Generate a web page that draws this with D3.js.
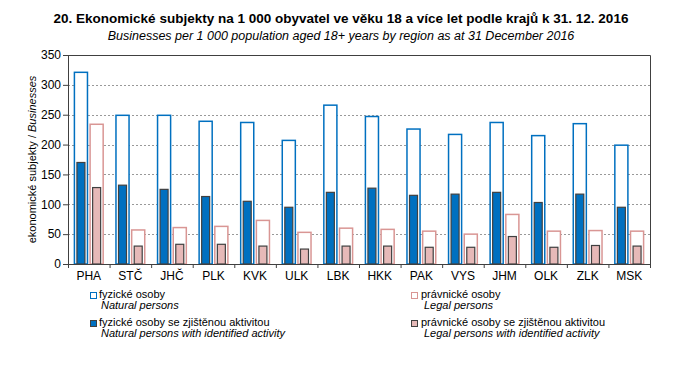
<!DOCTYPE html>
<html>
<head>
<meta charset="utf-8">
<script src="https://cdn.jsdelivr.net/npm/d3@7"></script>
<style>
  body { margin: 0; background: #fff; }
  text { font-family: "Liberation Sans", Arial, sans-serif; fill: #000; }
</style>
</head>
<body>
<div id="chart"></div>
<script>
const regions = ['PHA', 'STČ', 'JHČ', 'PLK', 'KVK', 'ULK', 'LBK', 'HKK', 'PAK', 'VYS', 'JHM', 'OLK', 'ZLK', 'MSK'];
const natural = [321, 249, 249, 239, 237, 207, 266, 247, 226, 217, 237, 215, 235, 199];
const naturalActive = [170, 132, 125, 113, 105, 95, 120, 127, 115, 117, 120, 103, 117, 95];
const legal = [234, 57, 61, 63, 73, 53, 60, 58, 55, 50, 83, 55, 56, 55];
const legalActive = [128, 30, 33, 33, 30, 25, 30, 30, 28, 28, 46, 28, 31, 30];
const yTicks = [0, 50, 100, 150, 200, 250, 300, 350];

const width = 682, height = 386;
const margin = { top: 55, right: 32, bottom: 122, left: 68 };
const blue = '#0070c0', pinkLine = '#d99694', pinkFill = '#e6b9b8', dark = '#404040';

const svg = d3.select('#chart').append('svg')
  .attr('width', width)
  .attr('height', height);

const x = d3.scaleBand()
  .domain(regions)
  .range([margin.left, width - margin.right])
  .paddingInner(0.26)
  .paddingOuter(0.13);

const sub = d3.scaleBand()
  .domain(['fyz', 'prav'])
  .range([0, x.bandwidth()])
  .paddingInner(0.04);

const y = d3.scaleLinear()
  .domain([0, 350])
  .range([height - margin.bottom, margin.top]);

// gridlines
svg.append('g')
  .selectAll('line')
  .data(yTicks.filter(d => d > 0 && d < 350))
  .join('line')
  .attr('x1', margin.left)
  .attr('x2', width - margin.right)
  .attr('y1', d => Math.round(y(d)) + 0.5)
  .attr('y2', d => Math.round(y(d)) + 0.5)
  .attr('stroke', '#999')
  .attr('stroke-dasharray', '2,2');

// frame top & right
svg.append('path')
  .attr('d', `M${margin.left},${margin.top + 0.5}H${width - margin.right + 0.5}V${height - margin.bottom}`)
  .attr('fill', 'none')
  .attr('stroke', dark);

const rows = regions.map((r, i) => ({
  region: r, natural: natural[i], naturalActive: naturalActive[i],
  legal: legal[i], legalActive: legalActive[i]
}));

const outlineW = sub.bandwidth();
const fillW = 8;

const g = svg.append('g').selectAll('g')
  .data(rows)
  .join('g')
  .attr('transform', d => `translate(${x(d.region)},0)`);

// outline bars
g.append('rect')
  .attr('x', sub('fyz') + 1)
  .attr('y', d => y(d.natural))
  .attr('width', outlineW - 2)
  .attr('height', d => y(0) - y(d.natural))
  .attr('fill', '#fff')
  .attr('stroke', blue)
  .attr('stroke-width', 1.5);

g.append('rect')
  .attr('x', sub('prav') + 1)
  .attr('y', d => y(d.legal))
  .attr('width', outlineW - 2)
  .attr('height', d => y(0) - y(d.legal))
  .attr('fill', '#fff')
  .attr('stroke', pinkLine)
  .attr('stroke-width', 1.5);

// filled bars
g.append('rect')
  .attr('x', sub('fyz') + (outlineW - fillW) / 2)
  .attr('y', d => y(d.naturalActive))
  .attr('width', fillW)
  .attr('height', d => y(0) - y(d.naturalActive))
  .attr('fill', blue)
  .attr('stroke', dark)
  .attr('stroke-width', 1.2);

g.append('rect')
  .attr('x', sub('prav') + (outlineW - fillW) / 2)
  .attr('y', d => y(d.legalActive))
  .attr('width', fillW)
  .attr('height', d => y(0) - y(d.legalActive))
  .attr('fill', pinkFill)
  .attr('stroke', dark)
  .attr('stroke-width', 1.2);

// y axis
const yAxis = svg.append('g')
  .attr('transform', `translate(${margin.left},0)`)
  .call(d3.axisLeft(y).tickValues(yTicks).tickSize(5).tickSizeOuter(0));
yAxis.select('.domain').attr('stroke', dark);
yAxis.selectAll('line').attr('stroke', dark);
yAxis.selectAll('text').style('font-size', '12px').attr('x', -7);

// x axis: ticks between categories
const edge = d3.scaleLinear().domain([0, regions.length]).range([margin.left, width - margin.right]);
const xTicks = svg.append('g')
  .attr('transform', `translate(0,${y(0)})`)
  .call(d3.axisBottom(edge).tickValues(d3.range(regions.length + 1)).tickFormat('').tickSize(4).tickSizeOuter(0));
xTicks.select('.domain').attr('stroke', dark);
xTicks.selectAll('line').attr('stroke', dark);

const xLabels = svg.append('g')
  .attr('transform', `translate(0,${y(0)})`)
  .call(d3.axisBottom(x).tickSize(0).tickPadding(7));
xLabels.select('.domain').remove();
xLabels.selectAll('text').style('font-size', '12px');

// y label
const yl = svg.append('text')
  .attr('transform', `translate(36,${(margin.top + y(0)) / 2}) rotate(-90)`)
  .attr('text-anchor', 'middle')
  .style('font-size', '11px');
yl.append('tspan').text('ekonomické subjekty / ');
yl.append('tspan').style('font-style', 'italic').text('Businesses');

// titles
svg.append('text')
  .attr('x', 341).attr('y', 23)
  .attr('text-anchor', 'middle')
  .style('font-size', '13.5px')
  .style('font-weight', 'bold')
  .text('20. Ekonomické subjekty na 1 000 obyvatel ve věku 18 a více let podle krajů k 31. 12. 2016');
svg.append('text')
  .attr('x', 341).attr('y', 40)
  .attr('text-anchor', 'middle')
  .style('font-size', '12.5px')
  .style('font-style', 'italic')
  .text('Businesses per 1 000 population aged 18+ years by region as at 31 December 2016');

// legend
const legendItems = [
  { x: 90, y: 298, cz: 'fyzické osoby', en: 'Natural persons', fill: '#fff', stroke: blue, dx: 9, ex: 11 },
  { x: 411, y: 298, cz: 'právnické osoby', en: 'Legal persons', fill: '#fff', stroke: pinkLine, dx: 10, ex: 13 },
  { x: 90, y: 326, cz: 'fyzické osoby se zjištěnou aktivitou', en: 'Natural persons with identified activity', fill: blue, stroke: dark, dx: 9, ex: 11 },
  { x: 411, y: 326, cz: 'právnické osoby se zjištěnou aktivitou', en: 'Legal persons with identified activity', fill: pinkFill, stroke: dark, dx: 10, ex: 13 }
];
const lg = svg.append('g').selectAll('g')
  .data(legendItems)
  .join('g')
  .attr('transform', d => `translate(${d.x},${d.y})`);
lg.append('rect')
  .attr('x', 0.5).attr('y', -5.5)
  .attr('width', 6).attr('height', 6)
  .attr('fill', d => d.fill)
  .attr('stroke', d => d.stroke);
lg.append('text')
  .attr('x', d => d.dx).attr('y', 0)
  .style('font-size', '11px')
  .text(d => d.cz);
lg.append('text')
  .attr('x', d => d.ex).attr('y', 11)
  .style('font-size', '11px')
  .style('font-style', 'italic')
  .text(d => d.en);
</script>
</body>
</html>
